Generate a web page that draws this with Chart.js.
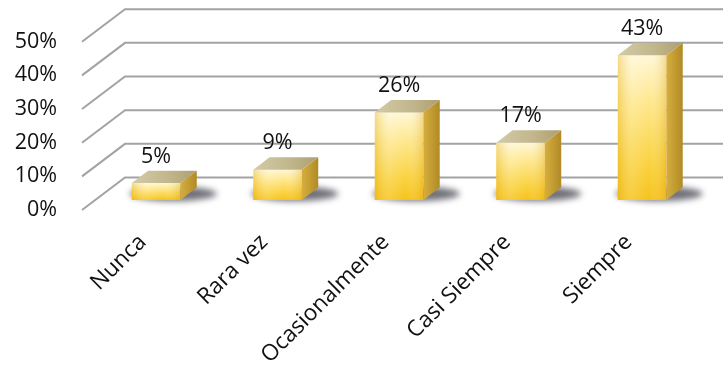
<!DOCTYPE html>
<html>
<head>
<meta charset="utf-8">
<script src="https://cdn.jsdelivr.net/npm/chart.js@4/dist/chart.umd.min.js"></script>
<style>
  html, body { margin: 0; padding: 0; background: #fff; }
  #wrap { width: 723px; height: 368px; }
</style>
</head>
<body>
<div id="wrap"><canvas id="grafik"></canvas></div>
<script>
// Datos
const categorias = ['Nunca', 'Rara vez', 'Ocasionalmente', 'Casi Siempre', 'Siempre'];
const porcentajes = [5, 9, 26, 17, 43];
const ticksY = [0, 10, 20, 30, 40, 50];

// Profundidad del efecto 3D (pared trasera y barras)
const PARED_DX = 43, PARED_DY = 32.5;
const BARRA_INI = 0.31;   // posicion de la cara frontal dentro de la profundidad
const BARRA_PROF = 0.38;  // grosor de la barra

const fuente = '"Open Sans", sans-serif';

const efecto3D = {
  id: 'efecto3D',
  beforeDatasetsDraw(chart) {
    const ctx = chart.ctx;
    const y = chart.scales.y;
    const area = chart.chartArea;

    // pared del fondo: lineas de cuadricula + diagonales
    ctx.save();
    ctx.strokeStyle = '#a3a3a3';
    ctx.lineWidth = 2;
    ticksY.forEach(v => {
      const py = y.getPixelForValue(v);
      ctx.beginPath();
      ctx.moveTo(area.left, py);
      ctx.lineTo(area.left + PARED_DX, py - PARED_DY);
      ctx.lineTo(area.right + PARED_DX + 20, py - PARED_DY);
      ctx.stroke();
    });
    ctx.restore();

    const meta = chart.getDatasetMeta(0);
    const ox = PARED_DX * BARRA_INI, oy = PARED_DY * BARRA_INI;
    const dx = PARED_DX * BARRA_PROF, dy = PARED_DY * BARRA_PROF;

    // sombras en la base
    meta.data.forEach(bar => {
      const left = bar.x - bar.width / 2 + ox;
      const right = bar.x + bar.width / 2 + ox;
      const base = bar.base - oy;
      ctx.save();
      ctx.filter = 'blur(3px)';
      ctx.fillStyle = 'rgba(50,50,62,0.7)';
      ctx.beginPath();
      ctx.ellipse((left + right + dx) / 2 + 9, base - dy / 2, (right - left + dx) / 2 + 11, dy / 2 + 1, 0, 0, Math.PI * 2);
      ctx.fill();
      ctx.restore();
    });

    // barras
    meta.data.forEach(bar => {
      const left = bar.x - bar.width / 2 + ox;
      const right = bar.x + bar.width / 2 + ox;
      const top = bar.y - oy;
      const base = bar.base - oy;

      ctx.save();
      // cara frontal
      let g = ctx.createLinearGradient(0, top, 0, base);
      g.addColorStop(0, '#fff7d6');
      g.addColorStop(0.3, '#fee993');
      g.addColorStop(0.75, '#fad23f');
      g.addColorStop(1, '#f6c31c');
      ctx.fillStyle = g;
      ctx.fillRect(left, top, right - left, base - top);
      let h = ctx.createLinearGradient(left, 0, right, 0);
      h.addColorStop(0, 'rgba(225,165,0,0.35)');
      h.addColorStop(0.3, 'rgba(255,255,255,0.15)');
      h.addColorStop(0.65, 'rgba(255,255,255,0)');
      h.addColorStop(1, 'rgba(215,150,0,0.3)');
      ctx.fillStyle = h;
      ctx.fillRect(left, top, right - left, base - top);

      // cara lateral
      let s = ctx.createLinearGradient(right, 0, right + dx, 0);
      s.addColorStop(0, '#d6ae3e');
      s.addColorStop(1, '#b08a26');
      ctx.fillStyle = s;
      ctx.beginPath();
      ctx.moveTo(right, top);
      ctx.lineTo(right + dx, top - dy);
      ctx.lineTo(right + dx, base - dy);
      ctx.lineTo(right, base);
      ctx.closePath();
      ctx.fill();

      // cara superior
      let t = ctx.createLinearGradient(left, 0, right + dx, 0);
      t.addColorStop(0, '#d3cba8');
      t.addColorStop(0.6, '#c0b58a');
      t.addColorStop(1, '#ad9f70');
      ctx.fillStyle = t;
      ctx.beginPath();
      ctx.moveTo(left, top);
      ctx.lineTo(left + dx, top - dy);
      ctx.lineTo(right + dx, top - dy);
      ctx.lineTo(right, top);
      ctx.closePath();
      ctx.fill();
      ctx.restore();
    });
  },
  afterDatasetsDraw(chart) {
    // etiquetas de valor
    const ctx = chart.ctx;
    const meta = chart.getDatasetMeta(0);
    const ox = PARED_DX * BARRA_INI, oy = PARED_DY * BARRA_INI;
    const dy = PARED_DY * BARRA_PROF;
    ctx.save();
    ctx.font = '21.5px ' + fuente;
    ctx.fillStyle = '#111';
    ctx.textAlign = 'center';
    ctx.textBaseline = 'middle';
    meta.data.forEach((bar, i) => {
      ctx.fillText(porcentajes[i] + '%', bar.x + ox, bar.y - oy - dy - 14);
    });
    ctx.restore();
  }
};

new Chart(document.getElementById('grafik'), {
  type: 'bar',
  data: {
    labels: categorias,
    datasets: [{
      data: porcentajes,
      backgroundColor: 'rgba(0,0,0,0)',
      borderWidth: 0,
      categoryPercentage: 1,
      barPercentage: 0.4
    }]
  },
  options: {
    responsive: true,
    maintainAspectRatio: false,
    animation: false,
    layout: { padding: { top: 41.7, right: 33.5, left: 0, bottom: 0 } },
    plugins: { legend: { display: false }, tooltip: { enabled: false } },
    scales: {
      x: {
        grid: { display: false, drawTicks: false },
        border: { display: false },
        ticks: {
          color: '#111',
          font: { family: fuente, size: 22.5 },
          maxRotation: 45,
          minRotation: 45,
          padding: 19
        },
        afterFit(scale) {
          scale.height = 158;
          scale.paddingLeft = 0;
          scale.paddingRight = 0;
        }
      },
      y: {
        min: 0,
        max: 50,
        grid: { display: false, drawTicks: false },
        border: { display: false },
        ticks: {
          stepSize: 10,
          color: '#111',
          font: { family: fuente, size: 21.5 },
          padding: 25,
          callback: v => v + '%'
        },
        afterFit(scale) {
          scale.width = 82;
        }
      }
    }
  },
  plugins: [efecto3D]
});
</script>
</body>
</html>
